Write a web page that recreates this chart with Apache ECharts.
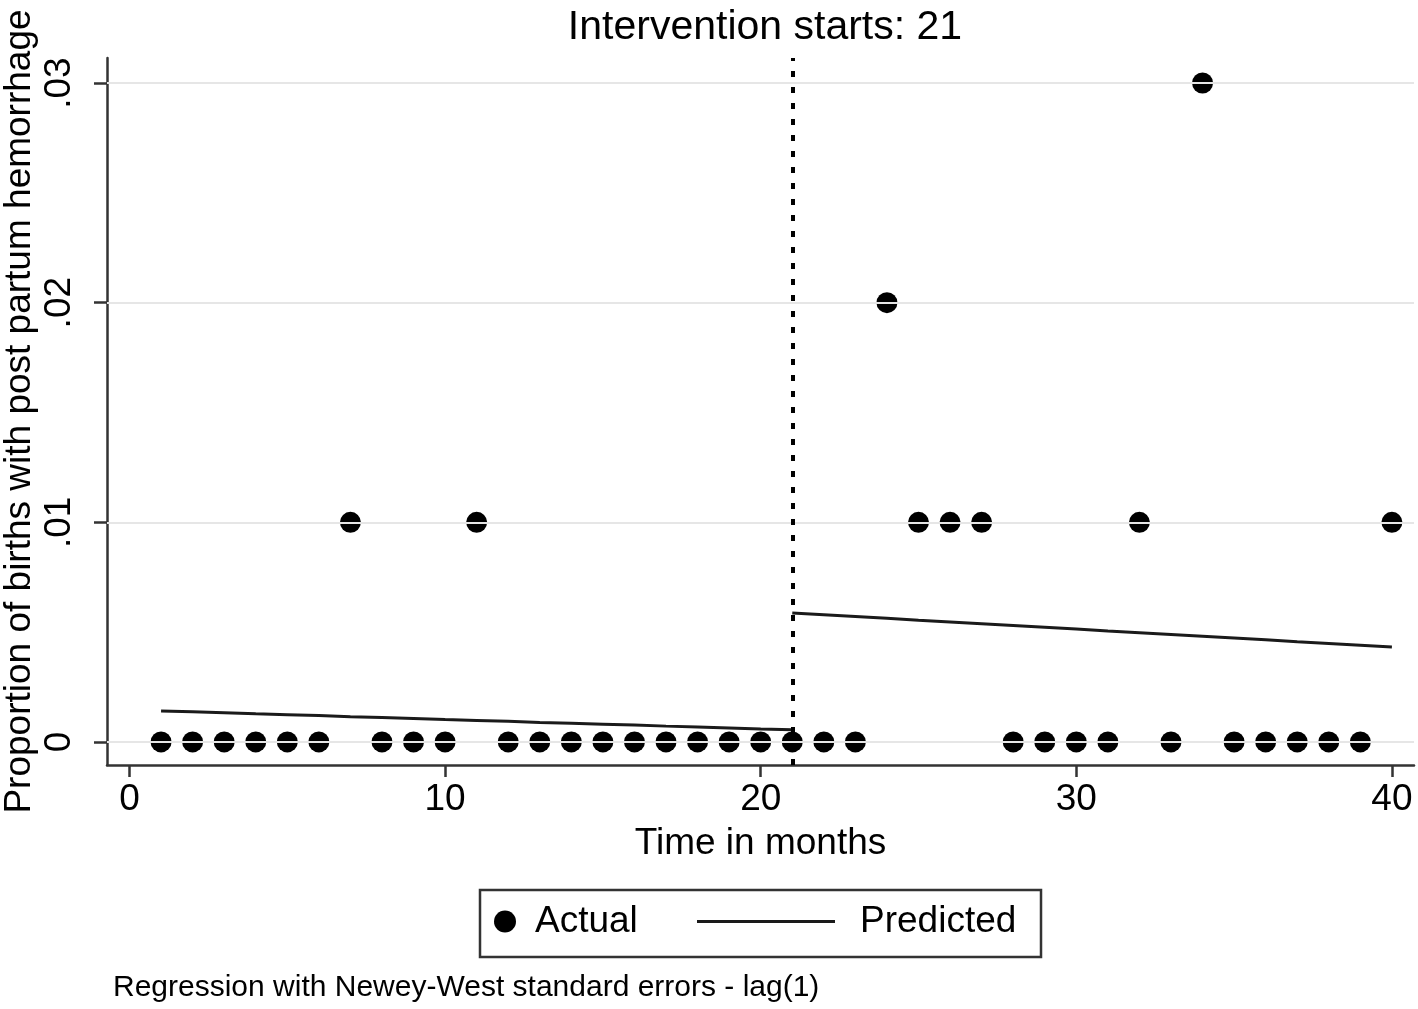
<!DOCTYPE html>
<html>
<head>
<meta charset="utf-8">
<script src="https://cdn.jsdelivr.net/npm/echarts@6/dist/echarts.min.js"></script>
<style>
html,body{margin:0;padding:0;background:#fff;}
#chart{width:1418px;height:1009px;}
</style>
</head>
<body>
<div id="chart"></div>
<script>
// ---- data ----
var months = [1,2,3,4,5,6,7,8,9,10,11,12,13,14,15,16,17,18,19,20,21,22,23,24,25,26,27,28,29,30,31,32,33,34,35,36,37,38,39,40];
var actual = [0,0,0,0,0,0,0.01,0,0,0,0.01,0,0,0,0,0,0,0,0,0,0,0,0,0.02,0.01,0.01,0.01,0,0,0,0,0.01,0,0.03,0,0,0,0,0,0.01];
var preMonths = [1,2,3,4,5,6,7,8,9,10,11,12,13,14,15,16,17,18,19,20,21];
var predictedPre = [0.00141,0.00137,0.00133,0.00128,0.00124,0.00120,0.00115,0.00111,0.00107,0.00102,0.00098,0.00094,0.00089,0.00085,0.00081,0.00077,0.00072,0.00068,0.00064,0.00059,0.00055];
var postMonths = [21,22,23,24,25,26,27,28,29,30,31,32,33,34,35,36,37,38,39,40];
var predictedPost = [0.00587,0.00579,0.00571,0.00563,0.00554,0.00546,0.00538,0.00530,0.00522,0.00514,0.00505,0.00497,0.00489,0.00481,0.00473,0.00465,0.00456,0.00448,0.00440,0.00432];
var xTicks = [0,10,20,30,40];
var yTicks = [0,0.01,0.02,0.03];
var yTickLabels = ['0','.01','.02','.03'];
var interventionMonth = 21;

var FONT = "'Liberation Sans', Arial, Helvetica, sans-serif";
var chart = echarts.init(document.getElementById('chart'), null, {renderer:'canvas'});

function pairs(xs, ys){ return xs.map(function(x,i){ return [x, ys[i]]; }); }

var option = {
  backgroundColor:'#fff',
  animation:false,
  textStyle:{fontFamily:FONT, color:'#000'},
  title:[
    {text:'Intervention starts: '+interventionMonth, left:760, textAlign:'center', top:2,
     textStyle:{fontFamily:FONT, fontSize:41, fontWeight:'normal', color:'#000'}},
    {text:'Regression with Newey-West standard errors - lag(1)', left:113, top:973, padding:0,
     textStyle:{fontFamily:FONT, fontSize:30, fontWeight:'normal', color:'#000'}}
  ],
  grid:{left:107, right:4, top:58, bottom:244, containLabel:false, outerBoundsMode:'none'},
  xAxis:{
    type:'value', min:-0.713, max:40.70,
    name:'Time in months', nameLocation:'middle', nameGap:60,
    nameTextStyle:{fontFamily:FONT, fontSize:37, color:'#000'},
    axisLine:{show:true, onZero:false, lineStyle:{color:'#333', width:2.5}},
    axisTick:{show:true, length:12, customValues:xTicks, lineStyle:{color:'#333', width:2.5}},
    axisLabel:{customValues:xTicks, margin:16, fontFamily:FONT, fontSize:37, color:'#000'},
    splitLine:{show:false}
  },
  yAxis:{
    type:'value', min:-0.00105, max:0.03114,
    name:'Proportion of births with post partum hemorrhage', nameLocation:'middle', nameGap:69, nameRotate:90,
    nameMoveOverlap:false,
    nameTextStyle:{fontFamily:FONT, fontSize:37, color:'#000'},
    axisLine:{show:true, onZero:false, lineStyle:{color:'#333', width:2.5}},
    axisTick:{show:true, length:13, customValues:yTicks, lineStyle:{color:'#333', width:2.5}},
    axisLabel:{customValues:yTicks, rotate:90, margin:29, fontFamily:FONT, fontSize:37, color:'#000',
      formatter:function(v){ var i = yTicks.indexOf(v); return i>=0 ? yTickLabels[i] : ''; }},
    splitLine:{show:false}
  },
  legend:[
    {data:[{name:'Actual', icon:'circle'}], left:494, top:903, padding:0, itemWidth:22, itemHeight:22,
     textStyle:{fontFamily:FONT, fontSize:37, color:'#000', padding:[0,0,0,14]}, selectedMode:false},
    {data:[{name:'Predicted', icon:'rect'}], left:697, top:903, padding:0, itemWidth:138, itemHeight:3,
     textStyle:{fontFamily:FONT, fontSize:37, color:'#000', padding:[0,0,0,20]}, selectedMode:false}
  ],
  graphic:[
    {type:'rect', shape:{x:480, y:890, width:561, height:67}, style:{fill:'none', stroke:'#333', lineWidth:2.5}, z:10}
  ],
  series:[
    {type:'line', name:'grid', data:[], z:1, silent:true,
     markLine:{silent:true, symbol:'none', label:{show:false},
       lineStyle:{color:'#e6e6e6', width:2, type:'solid'},
       data: yTicks.map(function(v){ return {yAxis:v}; })}},
    {type:'line', name:'Predicted', data:pairs(preMonths, predictedPre), symbol:'none', z:3,
     lineStyle:{color:'#1a1a1a', width:3}, itemStyle:{color:'#1a1a1a'}},
    {type:'line', name:'Predicted', data:pairs(postMonths, predictedPost), symbol:'none', z:3,
     lineStyle:{color:'#1a1a1a', width:3}, itemStyle:{color:'#1a1a1a'}},
    {type:'scatter', name:'Actual', data:pairs(months, actual), symbol:'circle', symbolSize:21, z:4,
     itemStyle:{color:'#000', opacity:1},
     markLine:{silent:true, symbol:'none', label:{show:false},
       lineStyle:{color:'#000', width:4, type:[6,10]},
       data:[{xAxis:interventionMonth}]}}
  ]
};
chart.setOption(option);
</script>
</body>
</html>
